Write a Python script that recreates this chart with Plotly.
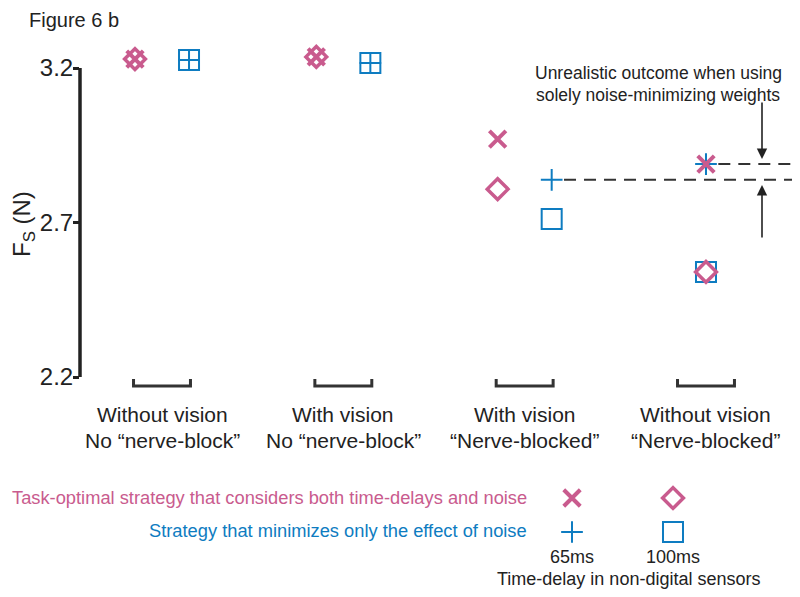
import plotly.graph_objects as go

# ---------------- data ----------------
group_line1 = ["Without vision", "With vision", "With vision", "Without vision"]
group_line2 = ["No “nerve-block”", "No “nerve-block”", "“Nerve-blocked”", "“Nerve-blocked”"]

task_65 = [3.229, 3.236, 2.970, 2.889]     # task-optimal, 65 ms  (x)
task_100 = [3.229, 3.236, 2.808, 2.540]    # task-optimal, 100 ms (diamond)
noise_65 = [3.226, 3.216, 2.838, 2.889]    # noise-only, 65 ms   (plus)
noise_100 = [3.226, 3.216, 2.711, 2.540]   # noise-only, 100 ms  (square)

y_ticks = [2.2, 2.7, 3.2]
delays = ["65ms", "100ms"]
task_label = "Task-optimal strategy that considers both time-delays and noise"
noise_label = "Strategy that minimizes only the effect of noise"

# ---------------- styles ----------------
PINK = "#C95B8E"
BLUE = "#0E7CC1"
DARK = "#222222"
FONT = "Liberation Sans, Arial, sans-serif"

OFF = 8  # page body margin: figure origin sits 8px into the window
W, H = 792, 589
L, T = 80 - OFF, 40 - OFF          # plot area left/top in figure px
RIGHT_SCREEN, BOTTOM_SCREEN = 795, 587
R = W - (RIGHT_SCREEN - OFF)
B = H - (BOTTOM_SCREEN - OFF)
PW, PH = W - L - R, H - T - B


def py2paper(py):  # screen y -> paper
    return (H - B - (py - OFF)) / PH


def px2paper(px):  # screen x -> paper
    return ((px - OFF) - L) / PW


# screen-pixel calibration of the main axes
cat0_px, cat_step = 162.0, 181.33
y32_px, y_per_unit = 68.0, 309.0


def py2val(py):
    return 3.2 - (py - y32_px) / y_per_unit


x_range = [(80 - cat0_px) / cat_step, (RIGHT_SCREEN - cat0_px) / cat_step]
y_range = [py2val(400), py2val(40)]

n = len(group_line1)
dodge = [0.149 if i < n - 1 else 0.0 for i in range(n)]
x_pink = [i - d for i, d in enumerate(dodge)]
x_blue = [i + d for i, d in enumerate(dodge)]

fig = go.Figure()

mk_x = dict(symbol="x-thin-open", size=16.5, line=dict(color=PINK, width=4), color=PINK)
mk_d = dict(symbol="diamond-open", size=16, line=dict(color=PINK, width=3.5), color=PINK)
mk_p = dict(symbol="cross-thin-open", size=15.5, line=dict(color=BLUE, width=2), color=BLUE)
mk_s = dict(symbol="square-open", size=20, line=dict(color=BLUE, width=2), color=BLUE)

# main data (blue first so pink is on top)
fig.add_trace(go.Scatter(x=x_blue, y=noise_100, mode="markers", marker=mk_s, cliponaxis=False,
                         xaxis="x", yaxis="y", showlegend=False))
fig.add_trace(go.Scatter(x=x_blue, y=noise_65, mode="markers", marker=mk_p, cliponaxis=False,
                         xaxis="x", yaxis="y", showlegend=False))
fig.add_trace(go.Scatter(x=x_pink, y=task_100, mode="markers", marker=mk_d, cliponaxis=False,
                         xaxis="x", yaxis="y", showlegend=False))
fig.add_trace(go.Scatter(x=x_pink, y=task_65, mode="markers", marker=mk_x, cliponaxis=False,
                         xaxis="x", yaxis="y", showlegend=False))

# legend key (own small axes)
fig.add_trace(go.Scatter(x=[0], y=[0], mode="markers", marker=mk_p, cliponaxis=False,
                         xaxis="x2", yaxis="y2", showlegend=False))
fig.add_trace(go.Scatter(x=[1], y=[0], mode="markers", marker=mk_s, cliponaxis=False,
                         xaxis="x2", yaxis="y2", showlegend=False))
fig.add_trace(go.Scatter(x=[0], y=[1], mode="markers", marker=mk_x, cliponaxis=False,
                         xaxis="x2", yaxis="y2", showlegend=False))
fig.add_trace(go.Scatter(x=[1], y=[1], mode="markers", marker=mk_d, cliponaxis=False,
                         xaxis="x2", yaxis="y2", showlegend=False))

shapes = []
# y axis line only from 2.2 to 3.2
shapes.append(dict(type="line", xref="paper", yref="y", x0=0, x1=0,
                   y0=min(y_ticks), y1=max(y_ticks), line=dict(color=DARK, width=3.5)))
# group brackets
yb_top, yb_bot = py2val(379), py2val(386)
half = 0.157
for i in range(n):
    shapes.append(dict(type="path", xref="x", yref="y",
                       path=f"M {i-half},{yb_top} L {i-half},{yb_bot} L {i+half},{yb_bot} L {i+half},{yb_top}",
                       line=dict(color="#333333", width=3)))
# dashed reference lines
gap = 0.068
shapes.append(dict(type="line", xref="x", yref="y", x0=x_blue[2] + gap, x1=x_range[1],
                   y0=noise_65[2], y1=noise_65[2],
                   line=dict(color="#333333", width=2, dash="12px,8px")))
shapes.append(dict(type="line", xref="x", yref="y", x0=x_blue[3] + gap, x1=x_range[1],
                   y0=noise_65[3], y1=noise_65[3],
                   line=dict(color="#333333", width=2, dash="12px,8px")))

ann = []
ann.append(dict(text="Figure 6 b", xref="paper", yref="paper", x=px2paper(27), y=py2paper(20),
                xanchor="left", yanchor="middle", showarrow=False,
                font=dict(size=20, color=DARK, family=FONT)))
ann.append(dict(text="F<sub>S</sub> (N)", xref="paper", yref="paper", x=px2paper(23), y=py2paper(224),
                xanchor="center", yanchor="middle", textangle=-90, showarrow=False,
                font=dict(size=24, color=DARK, family=FONT)))
for i in range(n):
    ann.append(dict(text=group_line1[i], xref="x", yref="paper", x=i, y=py2paper(414),
                    xanchor="center", yanchor="middle", showarrow=False,
                    font=dict(size=21, color=DARK, family=FONT)))
    ann.append(dict(text=group_line2[i], xref="x", yref="paper", x=i, y=py2paper(440),
                    xanchor="center", yanchor="middle", showarrow=False,
                    font=dict(size=21, color=DARK, family=FONT)))
# note
ann.append(dict(text="Unrealistic outcome when using", xref="paper", yref="paper",
                x=px2paper(658), y=py2paper(73), xanchor="center", yanchor="middle",
                showarrow=False, font=dict(size=17.5, color=DARK, family=FONT)))
ann.append(dict(text="solely noise-minimizing weights", xref="paper", yref="paper",
                x=px2paper(658), y=py2paper(95), xanchor="center", yanchor="middle",
                showarrow=False, font=dict(size=17.5, color=DARK, family=FONT)))
# arrows
ann.append(dict(text="", xref="paper", yref="paper", x=px2paper(762), y=py2paper(159),
                ax=0, ay=-58, showarrow=True, arrowhead=2, arrowsize=1.3, arrowwidth=1.6,
                arrowcolor=DARK, standoff=0))
ann.append(dict(text="", xref="paper", yref="paper", x=px2paper(762), y=py2paper(185),
                ax=0, ay=54, showarrow=True, arrowhead=2, arrowsize=1.3, arrowwidth=1.6,
                arrowcolor=DARK, standoff=0))
# key labels
ann.append(dict(text=task_label, xref="paper", yref="paper", x=px2paper(529), y=py2paper(497),
                xanchor="right", yanchor="middle", showarrow=False,
                font=dict(size=18.3, color=PINK, family=FONT)))
ann.append(dict(text=noise_label, xref="paper", yref="paper", x=px2paper(529), y=py2paper(530),
                xanchor="right", yanchor="middle", showarrow=False,
                font=dict(size=18.3, color=BLUE, family=FONT)))
for j, d in enumerate(delays):
    ann.append(dict(text=d, xref="x2", yref="paper", x=j, y=py2paper(557),
                    xanchor="center", yanchor="middle", showarrow=False,
                    font=dict(size=18, color=DARK, family=FONT)))
ann.append(dict(text="Time-delay in non-digital sensors", xref="paper", yref="paper",
                x=px2paper(628), y=py2paper(579), xanchor="center", yanchor="middle",
                showarrow=False, font=dict(size=18, color=DARK, family=FONT)))

# key axes calibration (screen px)
key_x0_px, key_step_px = 572.0, 101.0
key_row1_py, key_row0_py = 498.0, 532.0
key_dom_top, key_dom_bot = 470.0, 550.0
row_px = key_row0_py - key_row1_py
x2_range = [(80 - key_x0_px) / key_step_px, (RIGHT_SCREEN - key_x0_px) / key_step_px]
y2_range = [(key_row0_py - key_dom_bot) / row_px, (key_row0_py - key_dom_top) / row_px]

hidden = dict(showgrid=False, zeroline=False, showline=False, showticklabels=False, ticks="")

fig.update_layout(
    width=W, height=H,
    margin=dict(l=L, r=R, t=T, b=B),
    paper_bgcolor="white", plot_bgcolor="white",
    font=dict(family=FONT, color=DARK),
    xaxis=dict(range=x_range, domain=[0, 1], anchor="y", fixedrange=True, **hidden),
    yaxis=dict(range=y_range, domain=[py2paper(400), 1], anchor="x",
               tickvals=y_ticks, ticktext=[f"{v:.1f}" for v in y_ticks],
               ticks="outside", ticklen=6, tickwidth=2.5, tickcolor=DARK,
               ticklabelstandoff=-5,
               showgrid=False, zeroline=False, showline=False,
               tickfont=dict(size=24, color=DARK, family=FONT)),
    xaxis2=dict(range=x2_range, domain=[0, 1], anchor="y2", **hidden),
    yaxis2=dict(range=y2_range, domain=[py2paper(key_dom_bot), py2paper(key_dom_top)],
                anchor="x2", **hidden),
    shapes=shapes,
    annotations=ann,
    showlegend=False,
)

fig.write_html("out.html")
